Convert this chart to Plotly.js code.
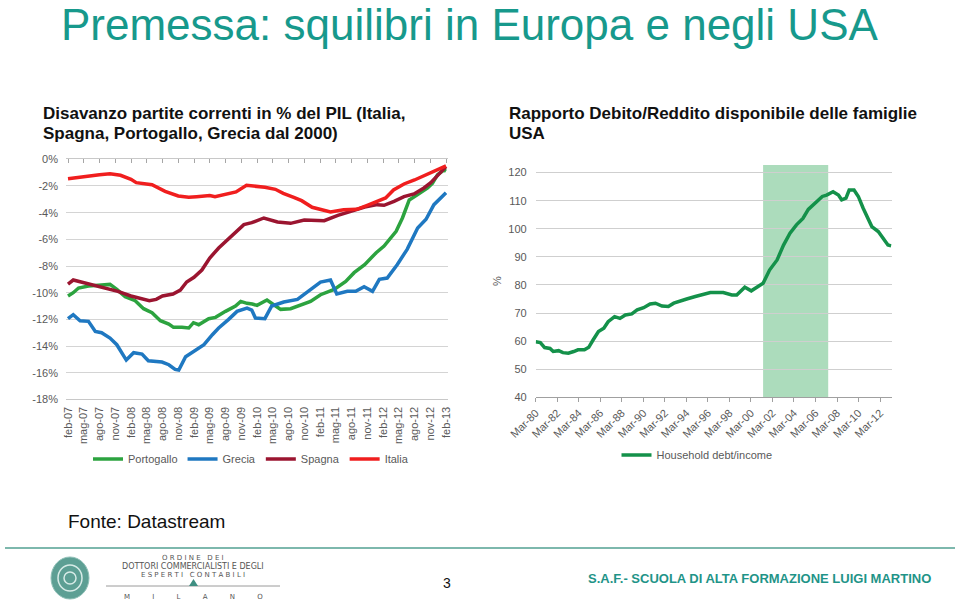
<!DOCTYPE html>
<html>
<head>
<meta charset="utf-8">
<script src="https://cdn.plot.ly/plotly-3.0.1.min.js"></script>
<style>html,body{margin:0;padding:0;background:#fff;}#chart{width:960px;height:609px;}</style>
</head>
<body>
<div id="chart"></div>
<script>
// ---------- Left chart: current account balance, % of GDP (months since feb-07) ----------
const leftTickVals = [0,3,6,9,12,15,18,21,24,27,30,33,36,39,42,45,48,51,54,57,60,63,66,69,72];
const leftTickLabels = ['feb-07','mag-07','ago-07','nov-07','feb-08','mag-08','ago-08','nov-08','feb-09','mag-09','ago-09','nov-09','feb-10','mag-10','ago-10','nov-10','feb-11','mag-11','ago-11','nov-11','feb-12','mag-12','ago-12','nov-12','feb-13'];
const leftYVals = [0,-2,-4,-6,-8,-10,-12,-14,-16,-18];
const leftYLabels = ['0%','-2%','-4%','-6%','-8%','-10%','-12%','-14%','-16%','-18%'];

const portMonths = [0,1,2,3.9,5.8,8,9.3,10.9,12.8,14.4,16,17.6,19.2,20.1,21.7,23,23.9,24.9,26.8,28.1,30,31.9,32.9,34.1,35.1,36,37.9,39.5,40.5,42.4,44.3,46.2,48.1,50.7,52.9,54.5,56.5,58.7,60.2,62.5,63.7,65,66.6,68.5,69.4,70.4,71.6,72];
const portVals = [-10.25,-10.0,-9.65,-9.5,-9.45,-9.38,-9.75,-10.3,-10.6,-11.2,-11.5,-12.1,-12.35,-12.6,-12.6,-12.65,-12.25,-12.4,-11.95,-11.85,-11.4,-11.0,-10.65,-10.8,-10.85,-10.95,-10.55,-11.0,-11.25,-11.2,-10.95,-10.65,-10.15,-9.75,-9.15,-8.5,-7.9,-7.0,-6.5,-5.4,-4.4,-3.05,-2.65,-2.15,-1.8,-1.15,-0.8,-0.9];

const greMonths = [0,1,2.3,3.9,5.2,6.4,8,9.3,11.1,12.5,14.1,15.3,17.9,19.2,20.4,21.1,22.4,24.3,25.9,27.5,28.7,30.6,32.2,34.1,35,35.7,37.5,38.8,41.1,43.7,46.2,48.1,50,51.2,53.2,54.8,56.4,58,59.3,60.8,62.7,64.6,66.6,68.2,69.7,71.6,72];
const greVals = [-11.95,-11.65,-12.1,-12.15,-12.9,-13.0,-13.4,-13.9,-15.05,-14.5,-14.6,-15.1,-15.2,-15.4,-15.75,-15.8,-14.8,-14.35,-13.9,-13.15,-12.65,-12.0,-11.4,-11.15,-11.3,-11.9,-11.95,-11.0,-10.7,-10.5,-9.75,-9.2,-9.05,-10.1,-9.9,-9.9,-9.55,-9.9,-9.0,-8.9,-7.9,-6.75,-5.15,-4.5,-3.4,-2.6,-2.5];

const spaMonths = [0,1,2.5,4.5,7,9.5,12,14,15.5,16.8,18,20,21.4,22.6,24,25.5,27,28.7,30.5,32,33.5,35,37.3,39.9,42.4,45,48.8,51.4,53.9,56.5,58.9,60.2,62.1,64,65.9,67.8,69.1,70.4,72];
const spaVals = [-9.35,-9.05,-9.2,-9.4,-9.7,-9.9,-10.25,-10.45,-10.6,-10.5,-10.25,-10.1,-9.8,-9.2,-8.85,-8.3,-7.4,-6.65,-6.0,-5.4,-4.9,-4.75,-4.4,-4.7,-4.8,-4.55,-4.6,-4.2,-3.88,-3.58,-3.4,-3.45,-3.15,-2.8,-2.6,-2.15,-1.75,-1.2,-0.55];

const itaMonths = [0,2,4,6,8,10,12,13,16,18.5,21,23,24.5,27,28,30,32,34,35.5,37.5,39.5,41,43,44.5,46.5,48,50,52.5,55,57,59,60.5,62,64,66,68,70,72];
const itaVals = [-1.45,-1.35,-1.2,-1.15,-1.08,-1.2,-1.5,-1.75,-1.9,-2.4,-2.75,-2.85,-2.8,-2.72,-2.8,-2.6,-2.45,-1.95,-2.0,-2.1,-2.25,-2.55,-2.85,-3.1,-3.6,-3.75,-3.95,-3.78,-3.75,-3.45,-3.13,-2.9,-2.3,-1.85,-1.55,-1.22,-0.9,-0.5];

// ---------- Right chart: US household debt / disposable income ----------
const rightTickYears = [1980.17,1982.17,1984.17,1986.17,1988.17,1990.17,1992.17,1994.17,1996.17,1998.17,2000.17,2002.17,2004.17,2006.17,2008.17,2010.17,2012.17];
const rightTickLabels = ['Mar-80','Mar-82','Mar-84','Mar-86','Mar-88','Mar-90','Mar-92','Mar-94','Mar-96','Mar-98','Mar-00','Mar-02','Mar-04','Mar-06','Mar-08','Mar-10','Mar-12'];
const debtYears = [1980.17,1980.6,1981.0,1981.5,1981.8,1982.3,1982.7,1983.2,1983.7,1984.1,1984.7,1985.1,1985.5,1986.0,1986.5,1986.9,1987.5,1988.0,1988.5,1989.1,1989.6,1990.2,1990.8,1991.3,1991.9,1992.5,1993.0,1993.6,1994.2,1995.0,1995.7,1996.4,1997.6,1998.4,1998.85,1999.6,2000.2,2000.9,2001.3,2001.9,2002.6,2003.2,2003.8,2004.4,2005.0,2005.5,2006.1,2006.8,2007.2,2007.8,2008.3,2008.6,2009.0,2009.3,2009.75,2010.15,2010.6,2010.9,2011.4,2012.0,2012.5,2012.9,2013.2];
const debtVals = [59.8,59.5,57.7,57.4,56.3,56.6,55.9,55.7,56.3,56.9,56.9,57.8,60.4,63.4,64.6,66.9,68.7,68.1,69.3,69.7,71.1,71.9,73.2,73.5,72.5,72.3,73.5,74.1,75.0,75.9,76.7,77.3,77.3,76.4,76.4,79.2,77.9,79.4,80.6,85.3,88.9,94.2,98.4,101.4,103.7,106.9,109.1,111.5,112.0,113.2,112.0,110.3,110.9,113.8,113.8,111.5,107.3,104.9,100.8,99.0,96.6,94.2,93.9];
const bandPeriod = [2001.3, 2007.35];

const W = 960, H = 609;
const px = v => v / W;
const py = v => 1 - v / H;
const grey = '#595959';
const FONT = 'Arial, "Liberation Sans", sans-serif';
const LOGOFONT = '"DejaVu Sans", Arial, sans-serif';

const traces = [
  {x: portMonths, y: portVals, name: 'Portogallo', type: 'scatter', mode: 'lines', line: {color: '#2ca33f', width: 3.5}, xaxis: 'x', yaxis: 'y', legend: 'legend'},
  {x: greMonths, y: greVals, name: 'Grecia', type: 'scatter', mode: 'lines', line: {color: '#1f78c1', width: 3.5}, xaxis: 'x', yaxis: 'y', legend: 'legend'},
  {x: spaMonths, y: spaVals, name: 'Spagna', type: 'scatter', mode: 'lines', line: {color: '#9b1530', width: 3.5}, xaxis: 'x', yaxis: 'y', legend: 'legend'},
  {x: itaMonths, y: itaVals, name: 'Italia', type: 'scatter', mode: 'lines', line: {color: '#f01e1e', width: 3.5}, xaxis: 'x', yaxis: 'y', legend: 'legend'},
  {x: itaMonths, y: itaVals, showlegend: false, hoverinfo: 'skip', type: 'scatter', mode: 'lines', line: {color: 'rgba(0,0,0,0)', width: 0}, xaxis: 'x3', yaxis: 'y'},
  {x: debtYears, y: debtVals, name: 'Household debt/income', type: 'scatter', mode: 'lines', line: {color: '#14914a', width: 3.5}, xaxis: 'x2', yaxis: 'y2', legend: 'legend2'}
];

const layout = {
  width: W, height: H,
  margin: {l: 0, r: 0, t: 0, b: 0},
  paper_bgcolor: '#ffffff', plot_bgcolor: 'rgba(0,0,0,0)',
  font: {family: FONT, color: grey, size: 11},
  xaxis: {
    domain: [px(66), px(448)], range: [-0.38, 72.38], anchor: 'y',
    tickmode: 'array', tickvals: leftTickVals, ticktext: leftTickLabels, tickangle: -90,
    showgrid: false, zeroline: false, showline: true, linecolor: '#c8c8c8', linewidth: 1,
    ticks: '', tickfont: {size: 11, color: grey}, ticklabelstandoff: 2
  },
  xaxis3: {
    overlaying: 'x', anchor: 'y', side: 'top', range: [-0.38, 72.38],
    tickmode: 'array', tickvals: leftTickVals, showticklabels: false,
    ticks: 'inside', ticklen: 4, tickcolor: '#a6a6a6', showgrid: false, zeroline: false,
    showline: true, linecolor: '#c8c8c8', linewidth: 1
  },
  yaxis: {
    domain: [py(399.4), py(159.3)], range: [-18, 0], anchor: 'x',
    tickmode: 'array', tickvals: leftYVals, ticktext: leftYLabels,
    showgrid: true, gridcolor: '#d4d4d4', gridwidth: 1, zeroline: false, showline: false,
    ticks: '', tickfont: {size: 11, color: grey}, ticklabelstandoff: 7
  },
  xaxis2: {
    domain: [px(535.7), px(891.7)], range: [1980.17, 2013.25], anchor: 'y2',
    tickmode: 'array', tickvals: rightTickYears, ticktext: rightTickLabels, tickangle: -45,
    showgrid: false, zeroline: false, showline: true, linecolor: '#a0a0a0', linewidth: 1,
    ticks: 'outside', ticklen: 4, tickcolor: '#a0a0a0', tickfont: {size: 11, color: grey}
  },
  yaxis2: {
    domain: [py(397.3), py(165)], range: [40, 122.7], anchor: 'x2',
    tickmode: 'array', tickvals: [40,50,60,70,80,90,100,110,120],
    showgrid: true, gridcolor: '#cfcfcf', gridwidth: 1, zeroline: false, showline: false,
    ticks: '', tickfont: {size: 11, color: grey}, ticklabelstandoff: 8,
    title: {text: '%', font: {size: 11, color: grey}, standoff: 4}
  },
  legend: {
    orientation: 'h', x: px(251), y: py(459), xanchor: 'center', yanchor: 'middle',
    font: {size: 11, color: grey}, bgcolor: 'rgba(0,0,0,0)', itemwidth: 30, tracegroupgap: 0
  },
  legend2: {
    orientation: 'h', x: px(697), y: py(455), xanchor: 'center', yanchor: 'middle',
    font: {size: 11, color: grey}, bgcolor: 'rgba(0,0,0,0)', itemwidth: 30
  },
  shapes: [
    {type: 'rect', xref: 'x2', yref: 'y2 domain', x0: bandPeriod[0], x1: bandPeriod[1], y0: 0, y1: 1,
     fillcolor: '#acdcbc', line: {width: 0}, layer: 'below'},
    {type: 'line', xref: 'paper', yref: 'paper', x0: px(5), x1: px(955), y0: py(548), y1: py(548),
     line: {color: '#7db8ad', width: 2}},
    // logo
    {type: 'circle', xref: 'paper', yref: 'paper', x0: px(51), x1: px(89), y0: py(599), y1: py(557),
     fillcolor: '#5d9f94', line: {color: '#8fc0b7', width: 1}},
    {type: 'circle', xref: 'paper', yref: 'paper', x0: px(58), x1: px(82), y0: py(591), y1: py(565),
     fillcolor: 'rgba(0,0,0,0)', line: {color: '#d7ebe7', width: 1.5}},
    {type: 'circle', xref: 'paper', yref: 'paper', x0: px(64), x1: px(76), y0: py(584), y1: py(572),
     fillcolor: 'rgba(0,0,0,0)', line: {color: '#d7ebe7', width: 1.5}},
    {type: 'line', xref: 'paper', yref: 'paper', x0: px(106), x1: px(280), y0: py(586), y1: py(586),
     line: {color: '#9a9a9a', width: 1}},
    {type: 'path', xref: 'paper', yref: 'paper',
     path: 'M ' + px(189) + ' ' + py(586) + ' L ' + px(193.5) + ' ' + py(579) + ' L ' + px(198) + ' ' + py(586) + ' Z',
     fillcolor: '#3f8f82', line: {width: 0}}
  ],
  annotations: [
    {text: 'Premessa: squilibri in Europa e negli USA', xref: 'paper', yref: 'paper', x: px(59), y: py(25),
     xanchor: 'left', yanchor: 'middle', showarrow: false, font: {family: FONT, size: 44, color: '#17998c'}},
    {text: '<b>Disavanzo partite correnti in % del PIL (Italia,</b>',
     xref: 'paper', yref: 'paper', x: px(41), y: py(113), xanchor: 'left', yanchor: 'middle', align: 'left',
     showarrow: false, font: {family: FONT, size: 17, color: '#111111'}},
    {text: '<b>Spagna, Portogallo, Grecia dal 2000)</b>',
     xref: 'paper', yref: 'paper', x: px(41), y: py(133), xanchor: 'left', yanchor: 'middle', align: 'left',
     showarrow: false, font: {family: FONT, size: 17, color: '#111111'}},
    {text: '<b>Rapporto Debito/Reddito disponibile delle famiglie</b>',
     xref: 'paper', yref: 'paper', x: px(507), y: py(113), xanchor: 'left', yanchor: 'middle', align: 'left',
     showarrow: false, font: {family: FONT, size: 17, color: '#111111'}},
    {text: '<b>USA</b>',
     xref: 'paper', yref: 'paper', x: px(507), y: py(133), xanchor: 'left', yanchor: 'middle', align: 'left',
     showarrow: false, font: {family: FONT, size: 17, color: '#111111'}},
    {text: 'Fonte: Datastream', xref: 'paper', yref: 'paper', x: px(66), y: py(521),
     xanchor: 'left', yanchor: 'middle', showarrow: false, font: {family: FONT, size: 19, color: '#111111'}},
    {text: '3', xref: 'paper', yref: 'paper', x: px(447), y: py(583),
     xanchor: 'center', yanchor: 'middle', showarrow: false, font: {family: FONT, size: 14, color: '#111111'}},
    {text: '<b>S.A.F.- SCUOLA DI ALTA FORMAZIONE LUIGI MARTINO</b>', xref: 'paper', yref: 'paper', x: px(933), y: py(578),
     xanchor: 'right', yanchor: 'middle', showarrow: false,
     font: {family: FONT, size: 13, color: '#1f9488'}},
    {text: 'O R D I N E   D E I', xref: 'paper', yref: 'paper', x: px(193), y: py(558),
     xanchor: 'center', yanchor: 'middle', showarrow: false, font: {family: LOGOFONT, size: 7, color: '#555555'}},
    {text: 'DOTTORI COMMERCIALISTI E DEGLI', xref: 'paper', yref: 'paper', x: px(193), y: py(566.5),
     xanchor: 'center', yanchor: 'middle', showarrow: false, font: {family: LOGOFONT, size: 8, color: '#555555'}},
    {text: 'E S P E R T I   C O N T A B I L I', xref: 'paper', yref: 'paper', x: px(193), y: py(574.5),
     xanchor: 'center', yanchor: 'middle', showarrow: false, font: {family: LOGOFONT, size: 7, color: '#555555'}},
    {text: 'M          I          L          A          N          O', xref: 'paper', yref: 'paper', x: px(193), y: py(597),
     xanchor: 'center', yanchor: 'middle', showarrow: false, font: {family: LOGOFONT, size: 7, color: '#555555'}}
  ]
};

Plotly.newPlot('chart', traces, layout, {displayModeBar: false, staticPlot: true});
</script>
</body>
</html>
